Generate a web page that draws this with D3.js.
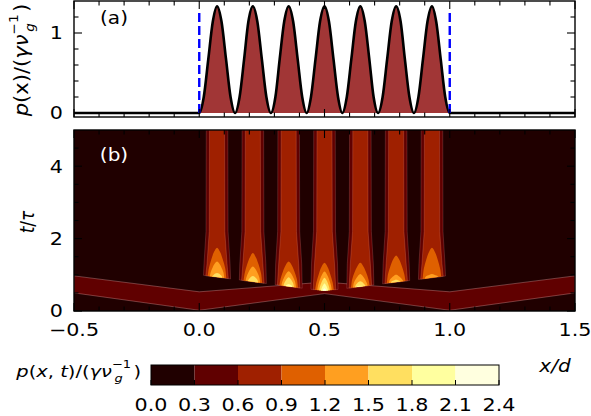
<!DOCTYPE html>
<html><head><meta charset="utf-8">
<script src="https://cdn.jsdelivr.net/npm/d3@7"></script>
<style>
body{margin:0;background:#fff;}
text{font-family:"DejaVu Sans",sans-serif;}
</style></head>
<body><svg id="c" width="591" height="416"></svg>
<script>
// ---------- data ----------
const xTicks = [-0.5, 0.0, 0.5, 1.0, 1.5];
const topYTicks = [0, 1];
const botYTicks = [0, 2, 4];
const cbTicks = [0.0, 0.3, 0.6, 0.9, 1.2, 1.5, 1.8, 2.1, 2.4];
const cbColors = ["#200000","#600000","#9f2000","#df6000","#ff9f20","#ffdf60","#ffff9f","#ffffdf"];
// panel (a): p(x)
const curveX = [-0.5,0,0.018,0.036,0.054,0.071,0.089,0.107,0.125,0.143,0.161,0.179,0.196,0.214,0.232,0.25,0.268,0.286,0.304,0.321,0.339,0.357,0.375,0.393,0.411,0.429,0.446,0.464,0.482,0.5,0.518,0.536,0.554,0.571,0.589,0.607,0.625,0.643,0.661,0.679,0.696,0.714,0.732,0.75,0.768,0.786,0.804,0.821,0.839,0.857,0.875,0.893,0.911,0.929,0.946,0.964,0.982,1.0,1.5];
const curveP = [0,0,0.20,0.67,1.14,1.335,1.14,0.67,0.20,0,0.20,0.67,1.14,1.335,1.14,0.67,0.20,0,0.20,0.67,1.14,1.335,1.14,0.67,0.20,0,0.20,0.67,1.14,1.335,1.14,0.67,0.20,0,0.20,0.67,1.14,1.335,1.14,0.67,0.20,0,0.20,0.67,1.14,1.335,1.14,0.67,0.20,0,0.20,0.67,1.14,1.335,1.14,0.67,0.20,0,0];
const edgeX = [0, 1];
const edgeTop = 1.29;
// panel (b): travelling band edges (x, t)
const bandX = [-0.5, 0, 0.5, 1, 1.5];
const bandLowT = [0.5, 0.02, 0.48, 0.02, 0.5];
const bandHighT = [0.97, 0.53, 0.80, 0.53, 0.97];
// flame base line
const baseX = [0, 0.5, 1];
const baseT = [1.0, 0.55, 0.98];
// pillars
const pillarX = [0.071, 0.214, 0.357, 0.5, 0.643, 0.786, 0.929];
const outerHalfW = [0.054, 0.052, 0.044, 0.043]; // at base, t=1.3, t=2.2, t=5
const coreHalfW = [0.045, 0.040, 0.031, 0.030];
const widthT = [null, 1.3, 2.2, 5.0];
// flame levels: 0.9, 1.2, 1.5, 1.8, 2.1 tops per pillar
const flameLevels = [3, 4, 5, 6, 7];
const flameBaseHalfW = [0.037, 0.029, 0.021, 0.014, 0.008];
const flameTop = [
  [1.75, 1.60, 1.37, 1.33, 1.33, 1.53, 1.75],
  [1.37, 1.23, 1.10, 1.09, 1.02, 1.00, 1.02],
  [1.05, 0.97, 0.93, 0.92, 0.82, 0.86, null],
  [null, null, 0.74, 0.76, 0.70, null, null],
  [null, null, null, 0.63, null, null, null]
];

// ---------- layout ----------
const svg = d3.select("#c");
const x = d3.scaleLinear([-0.5, 1.5], [74, 575]);
const yA = d3.scaleLinear([-0.05, 1.4], [117, 1]);
const yB = d3.scaleLinear([0, 5], [311, 130]);
const baseAt = d3.scaleLinear(baseX, baseT);
const SX = 1.18; // horizontal stretch of text in the reference

// ---------- panel (a) ----------
const gA = svg.append("g");
const pts = curveX.map((v, i) => [v, curveP[i]]);
gA.append("path").datum(pts)
  .attr("d", d3.area().x(d => x(d[0])).y0(yA(0)).y1(d => yA(d[1])).curve(d3.curveMonotoneX))
  .attr("fill", "#a13636");
gA.append("path").datum(pts)
  .attr("d", d3.line().x(d => x(d[0])).y(d => yA(d[1])).curve(d3.curveMonotoneX))
  .attr("fill", "none").attr("stroke", "#000").attr("stroke-width", 2.6);
edgeX.forEach(e => {
  gA.append("line").attr("x1", x(e)).attr("x2", x(e)).attr("y1", yA(0)).attr("y2", yA(edgeTop))
    .attr("stroke", "#0000ff").attr("stroke-width", 2.4).attr("stroke-dasharray", "9,4");
});

// ---------- panel (b) ----------
const gB = svg.append("g");
const clip = svg.append("clipPath").attr("id", "clb");
clip.append("rect").attr("x", 74).attr("y", 130).attr("width", 501).attr("height", 181);
const gBc = gB.append("g").attr("clip-path", "url(#clb)");
gBc.append("rect").attr("x", x(-0.5)).attr("y", yB(5)).attr("width", x(1.5) - x(-0.5)).attr("height", yB(0) - yB(5)).attr("fill", cbColors[0]);
const bandPoly = bandX.map((v, i) => [v, bandLowT[i]]).concat(bandX.map((v, i) => [v, bandHighT[i]]).reverse());
gBc.append("path").attr("d", "M" + bandPoly.map(p => [x(p[0]), yB(p[1])].join(",")).join("L") + "Z")
  .attr("fill", cbColors[1]).attr("stroke", "rgba(255,190,190,0.45)").attr("stroke-width", 0.7);

function pillarPath(xc, hw) {
  const xl = xc - hw[0], xr = xc + hw[0];
  const left = [[xl, baseAt(xl)]].concat(widthT.slice(1).map((t, i) => [xc - hw[i + 1], t]));
  const right = widthT.slice(1).map((t, i) => [xc + hw[i + 1], t]).reverse().concat([[xr, baseAt(xr)]]);
  return d3.line().x(d => x(d[0])).y(d => yB(d[1]))(left.concat(right)) + "Z";
}
pillarX.forEach(xc => {
  gBc.append("path").attr("d", pillarPath(xc, outerHalfW)).attr("fill", cbColors[1])
    .attr("stroke", "rgba(255,170,170,0.3)").attr("stroke-width", 0.6);
  gBc.append("path").attr("d", pillarPath(xc, coreHalfW)).attr("fill", cbColors[2])
    .attr("stroke", "rgba(255,170,140,0.35)").attr("stroke-width", 0.6);
});
function flamePath(xc, w, top) {
  const xl = xc - w, xr = xc + w;
  const bl = baseAt(xl), br = baseAt(xr), bc = baseAt(xc);
  const h = top - bc;
  const fr = [0, 0.3, 0.6, 0.85, 1], wf = [1, 0.88, 0.62, 0.33, 0];
  const left = fr.map((f, i) => [xc - w * wf[i], (i === 0 ? bl : bc + f * h)]);
  const right = fr.slice(0, 4).map((f, i) => [xc + w * wf[i], (i === 0 ? br : bc + f * h)]).reverse();
  return d3.line().x(d => x(d[0])).y(d => yB(d[1])).curve(d3.curveCatmullRom)(left.concat(right)) + "Z";
}
flameLevels.forEach((lv, li) => {
  pillarX.forEach((xc, pi) => {
    const top = flameTop[li][pi];
    if (top == null) return;
    gBc.append("path").attr("d", flamePath(xc, flameBaseHalfW[li], top)).attr("fill", cbColors[lv]);
  });
});

// ---------- axes ----------
function frame(g, y0, y1) {
  g.append("rect").attr("x", 74).attr("y", y0).attr("width", 501).attr("height", y1 - y0)
    .attr("fill", "none").attr("stroke", "#000").attr("stroke-width", 1.4);
}
function xTicksAt(g, yb, yt) {
  d3.range(-5, 16).map(k => k / 10).forEach(v => {
    const major = Math.abs(v * 2 - Math.round(v * 2)) < 1e-6;
    const L = major ? 8 : 4.5;
    g.append("line").attr("x1", x(v)).attr("x2", x(v)).attr("y1", yb).attr("y2", yb - L).attr("stroke", "#000").attr("stroke-width", 1.1);
    g.append("line").attr("x1", x(v)).attr("x2", x(v)).attr("y1", yt).attr("y2", yt + L).attr("stroke", "#000").attr("stroke-width", 1.1);
  });
}
function yTicksAt(g, y, vals, majors) {
  vals.forEach(v => {
    const major = majors.some(m => Math.abs(m - v) < 1e-6);
    const L = major ? 8 : 4.5;
    g.append("line").attr("x1", 74).attr("x2", 74 + L).attr("y1", y(v)).attr("y2", y(v)).attr("stroke", "#000").attr("stroke-width", 1.1);
    g.append("line").attr("x1", 575).attr("x2", 575 - L).attr("y1", y(v)).attr("y2", y(v)).attr("stroke", "#000").attr("stroke-width", 1.1);
  });
}
xTicksAt(gA, 117, 1);
yTicksAt(gA, yA, d3.range(0, 7).map(k => k * 0.2), topYTicks);
frame(gA, 1, 117);
xTicksAt(gB, 311, 130);
yTicksAt(gB, yB, d3.range(0, 10).map(k => k * 0.5), botYTicks);
frame(gB, 130, 311);

// stretched text helper
function txt(px, py, anchor, size, fill) {
  const g = svg.append("g").attr("transform", `translate(${px},${py}) scale(${SX},1)`);
  return g.append("text").attr("text-anchor", anchor).attr("dy", "0.36em").attr("font-size", size).attr("fill", fill || "#000");
}
const fs = 17.5;
topYTicks.forEach(v => txt(63, yA(v), "end", fs).text(v));
botYTicks.forEach(v => txt(63, yB(v), "end", fs).text(v));
xTicks.forEach(v => txt(x(v), 330, "middle", fs).text(d3.format(".1f")(v).replace("-", "\u2212")));

txt(114, 18, "middle", 17).text("(a)");
txt(114, 155, "middle", 17, "#fff").text("(b)");

function mathLabel(t, parts) {
  parts.forEach(p => {
    const s = t.append("tspan").text(p.t);
    if (p.i) s.attr("font-style", "italic");
    if (p.dy) s.attr("dy", p.dy);
    if (p.dx) s.attr("dx", p.dx);
    if (p.fs) s.attr("font-size", p.fs);
  });
}
const supsub = [{t: "−1", dy: -9, fs: 11}, {t: "g", i: 1, dy: 14, dx: -14, fs: 11}, {t: ")", dy: -5, dx: 9}];
// rotated y labels (stretched along their length to match)
const yl1 = svg.append("g").attr("transform", "translate(28,60) rotate(-90) scale(1.24,1.15)")
  .append("text").attr("text-anchor", "middle").attr("font-size", 17);
mathLabel(yl1, [{t: "p", i: 1}, {t: "(x)/("}, {t: "γν", i: 1}].concat(supsub));
const yl2 = svg.append("g").attr("transform", "translate(34,222) rotate(-90) scale(1,1.15)")
  .append("text").attr("text-anchor", "middle").attr("font-size", 17);
mathLabel(yl2, [{t: "t", i: 1}, {t: "/"}, {t: "τ", i: 1}]);

// ---------- colorbar ----------
const cbx = d3.scaleLinear([0, 2.4], [151, 499]);
const gC = svg.append("g");
cbColors.forEach((c, i) => {
  gC.append("rect").attr("x", cbx(cbTicks[i])).attr("y", 365).attr("width", cbx(cbTicks[i + 1]) - cbx(cbTicks[i])).attr("height", 20).attr("fill", c);
});
cbTicks.forEach(v => {
  gC.append("line").attr("x1", cbx(v)).attr("x2", cbx(v)).attr("y1", 385).attr("y2", 380).attr("stroke", "#000").attr("stroke-width", 1);
  txt(cbx(v), 405, "middle", fs).text(d3.format(".1f")(v));
});
gC.append("rect").attr("x", 151).attr("y", 365).attr("width", 348).attr("height", 20).attr("fill", "none").attr("stroke", "#000").attr("stroke-width", 1);
const cl = txt(141, 371, "end", 16.5).attr("dy", "0.36em");
mathLabel(cl, [{t: "p", i: 1}, {t: "("}, {t: "x", i: 1}, {t: ", "}, {t: "t", i: 1}, {t: ")/("}, {t: "γν", i: 1}].concat(supsub));
txt(555, 366, "middle", 17).attr("font-style", "italic").text("x/d");
</script></body></html>
